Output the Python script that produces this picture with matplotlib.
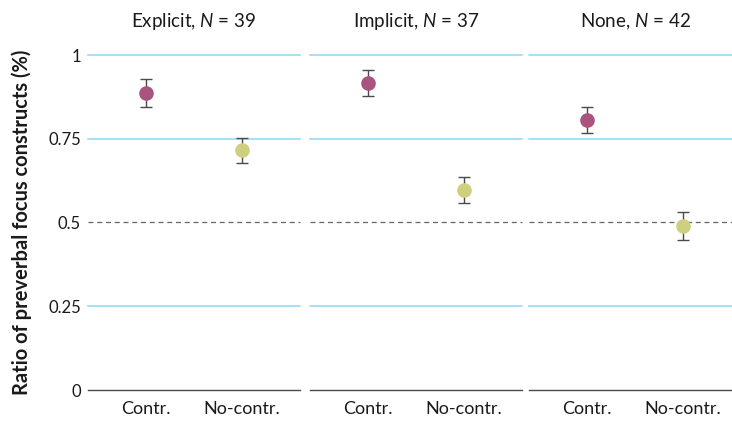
import matplotlib
matplotlib.use("Agg")
import matplotlib.pyplot as plt

plt.rcParams['font.family'] = ['Lato', 'DejaVu Sans']
plt.rcParams['mathtext.fontset'] = 'custom'
plt.rcParams['mathtext.it'] = 'Lato:italic'

# ------------------------------------------------------------
# data
# ------------------------------------------------------------
panels     = ["Explicit", "Implicit", "None"]
n_subj     = [39, 37, 42]
categories = ["Contr.", "No-contr."]

means = [[0.887, 0.716],
         [0.916, 0.597],
         [0.806, 0.490]]
lower = [[0.846, 0.678],
         [0.878, 0.558],
         [0.767, 0.448]]
upper = [[0.927, 0.752],
         [0.955, 0.636],
         [0.845, 0.531]]

yticks      = [0, 0.25, 0.5, 0.75, 1]
ytick_text  = ["0", "0.25", "0.5", "0.75", "1"]

col_contr   = "#A9537E"
col_nocontr = "#CFCF80"
col_grid    = "#8DD8F6"
col_dark    = "#4A4A4A"
col_text    = "#1A1A1A"

# ------------------------------------------------------------
# figure
# ------------------------------------------------------------
W, H = 732, 423
fig = plt.figure(figsize=(W / 100, H / 100), dpi=100)

lefts = [88, 310, 529]
pw = 212
y0, y1 = 390, 55

for i, (name, n) in enumerate(zip(panels, n_subj)):
    ax = fig.add_axes([lefts[i] / W, 1 - y0 / H, pw / W, (y0 - y1) / H])
    ax.set_xlim(-0.6, 1.6)
    ax.set_ylim(0, 1)

    for t in yticks:
        if t == 0:
            ax.axhline(t, color=col_dark, lw=1.0, clip_on=False)
        elif t == 0.5:
            ax.axhline(t, color="#666666", lw=0.9, ls=(0, (4, 3)), clip_on=False)
        else:
            ax.axhline(t, color=col_grid, lw=1.1, clip_on=False)

    for j, c in enumerate([col_contr, col_nocontr]):
        m = means[i][j]
        err = [[m - lower[i][j]], [upper[i][j] - m]]
        ax.errorbar([j], [m], yerr=err, fmt="o", ms=9.5, color=c,
                    ecolor=col_dark, elinewidth=1.0, capsize=4.5,
                    capthick=1.0, zorder=3)

    ax.set_xticks([0, 1])
    ax.set_xticklabels(categories, fontsize=13, color=col_text)
    ax.tick_params(axis="both", length=0, pad=8)

    if i == 0:
        ax.set_yticks(yticks)
        ax.set_yticklabels(ytick_text, fontsize=12, color=col_text)
        ax.tick_params(axis="y", pad=5)
        ax.set_ylabel("Ratio of preverbal focus constructs (%)",
                      fontsize=14.5, fontweight="bold", color=col_text,
                      labelpad=12)
    else:
        ax.set_yticks([])

    ax.set_title(f"{name}, $N$ = {n}", fontsize=13.5, color=col_text,
                 pad=20)

    for s in ax.spines.values():
        s.set_visible(False)

fig.savefig("out.png", dpi=100)
